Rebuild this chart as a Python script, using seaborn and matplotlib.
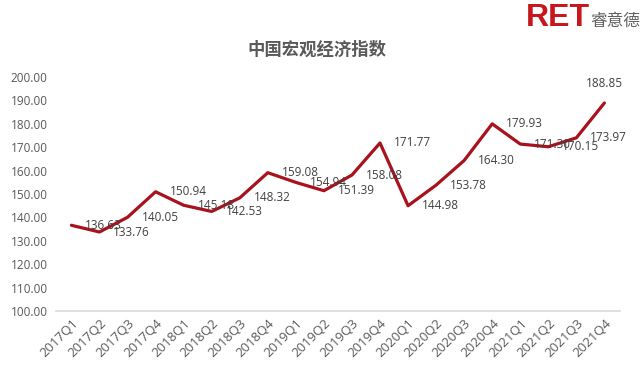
import matplotlib
matplotlib.use("Agg")
import matplotlib.pyplot as plt
import pandas as pd
import seaborn as sns

sns.set_theme(style="white")
plt.rcParams['font.family'] = ['Open Sans', 'Noto Sans CJK SC', 'DejaVu Sans']

# quarterly index values
quarters = ['2017Q1', '2017Q2', '2017Q3', '2017Q4',
            '2018Q1', '2018Q2', '2018Q3', '2018Q4',
            '2019Q1', '2019Q2', '2019Q3', '2019Q4',
            '2020Q1', '2020Q2', '2020Q3', '2020Q4',
            '2021Q1', '2021Q2', '2021Q3', '2021Q4']
index_values = [136.63, 133.76, 140.05, 150.94,
                145.18, 142.53, 148.32, 159.08,
                154.94, 151.39, 158.08, 171.77,
                144.98, 153.78, 164.30, 179.93,
                171.30, 170.15, 173.97, 188.85]
y_ticks = list(range(100, 201, 10))

title = "中国宏观经济指数"
line_color = "#A8121C"
text_grey = "#595959"

df = pd.DataFrame({"quarter": quarters, "value": index_values})

fig = plt.figure(figsize=(6.4, 3.73), dpi=100)
ax = fig.add_axes([0.0875, 0.166, 0.881, 0.628])
sns.lineplot(data=df, x="quarter", y="value", ax=ax, color=line_color,
             linewidth=2.3, sort=False)

ax.set_ylim(100, 200)
ax.set_xlim(-0.55, len(quarters) - 0.45)
ax.set_yticks(y_ticks)
ax.set_yticklabels(["%.2f" % t for t in y_ticks])
ax.tick_params(axis='y', labelsize=8.5, colors=text_grey, length=0, pad=6)
ax.tick_params(axis='x', labelsize=9.5, colors=text_grey, length=0, pad=4)
plt.setp(ax.get_xticklabels(), rotation=45, ha='right', rotation_mode='anchor')
ax.set_xlabel("")
ax.set_ylabel("")
for s in ['top', 'right', 'left']:
    ax.spines[s].set_visible(False)
ax.spines['bottom'].set_color("#D9D9D9")
ax.spines['bottom'].set_linewidth(1.2)

# data labels, to the right of each point (last one above)
for i, v in enumerate(index_values):
    if i == len(index_values) - 1:
        ax.annotate("%.2f" % v, (i, v), xytext=(0, 9), textcoords='offset points',
                    ha='center', va='bottom', fontsize=8.5, color="#404040")
    else:
        ax.annotate("%.2f" % v, (i, v), xytext=(10, 0), textcoords='offset points',
                    ha='left', va='center', fontsize=8.5, color="#404040")

fig.text(0.495, 0.868, title, ha='center', va='center', fontsize=12.5,
         fontweight='bold', color=text_grey,
         family=['Noto Sans CJK SC', 'DejaVu Sans'])

# logo
fig.text(0.822, 0.93, "RET", ha='left', va='baseline', fontsize=23,
         fontweight='bold', color="#C8161D", family=['Liberation Sans', 'DejaVu Sans'])
fig.text(0.922, 0.93, "睿意德", ha='left', va='baseline', fontsize=12,
         color="#606060", family=['Noto Sans CJK SC', 'DejaVu Sans'])

fig.savefig("out.png", dpi=100)
